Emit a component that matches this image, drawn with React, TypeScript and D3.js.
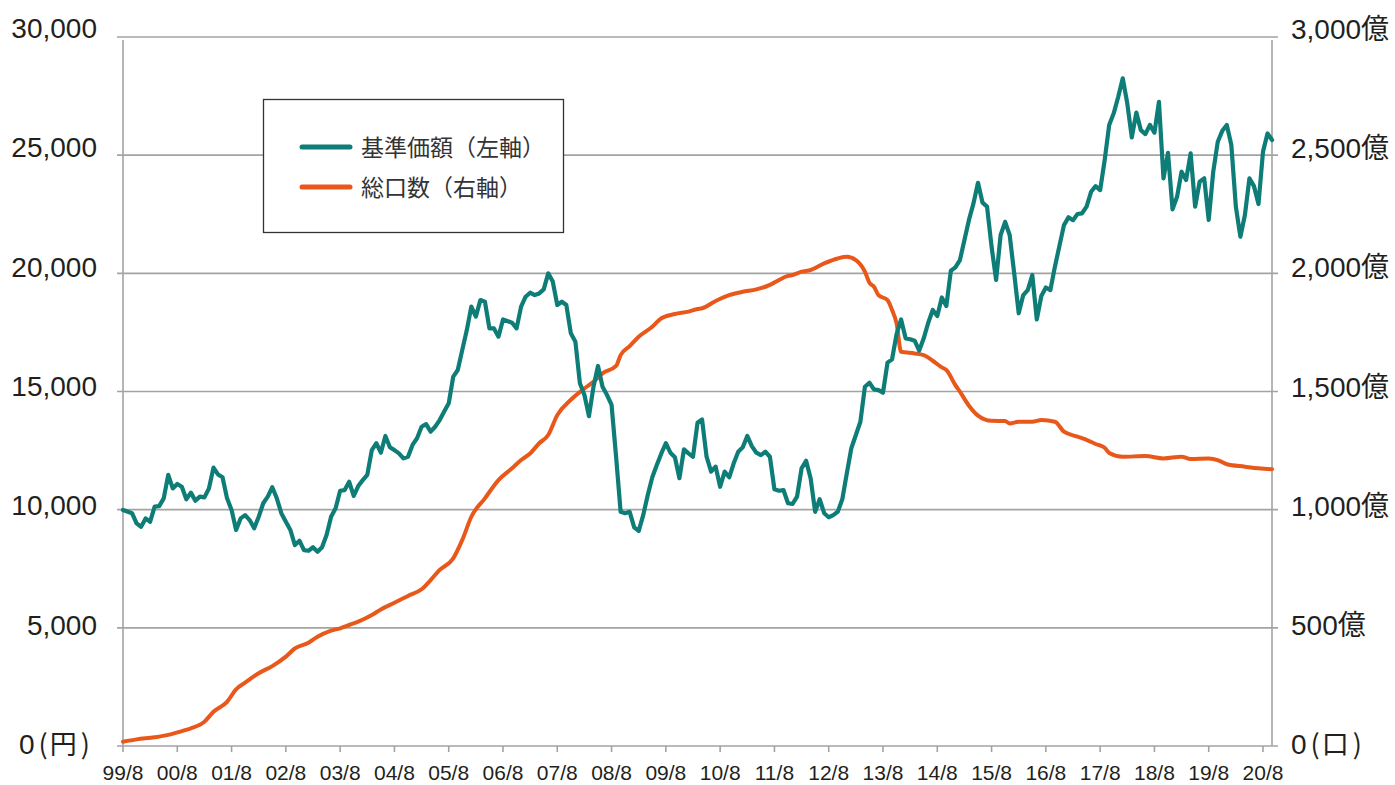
import React from "react"
import * as d3 from "d3"

// months counted from 1999/8
const navMonths = [
  0, 2, 3, 4, 5, 6, 7, 8, 9, 10, 11, 12, 13, 14, 15, 16, 17, 18, 19, 20, 21, 22, 23, 24, 25, 26, 27, 28, 29, 30,
  31, 32, 33, 34, 35, 36, 37, 38, 39, 40, 41, 42, 43, 44, 45, 46, 47, 48, 49, 50, 51, 52, 53, 54, 55, 56, 57, 58, 59, 60,
  61, 62, 63, 64, 65, 66, 67, 68, 69, 70, 71, 72, 73, 74, 75, 76, 77, 78, 79, 80, 81, 82, 83, 84, 86, 87, 88, 89, 90,
  91, 92, 93, 94, 95, 96, 97, 98, 99, 100, 101, 102, 103, 104, 105, 106, 107, 108, 109, 110, 111, 112, 113, 114, 115, 116, 117, 118, 119, 120,
  121, 122, 123, 124, 125, 126, 127, 128, 129, 130, 131, 132, 133, 134, 135, 136, 137, 138, 139, 140, 141, 142, 143, 144, 145, 146, 147, 148, 149, 150,
  151, 152, 153, 154, 155, 156, 157, 158, 159, 160, 161, 162, 163, 164, 165, 166, 167, 168, 169, 170, 171, 172, 173, 174, 175, 176, 177, 178, 179, 180,
  181, 182, 183, 184, 185, 186, 187, 188, 189, 190, 191, 192, 193, 194, 195, 196, 197, 198, 199, 200, 201, 202, 203, 204, 205, 206, 207, 208, 209, 210,
  211, 212, 213, 214, 215, 216, 217, 218, 219, 220, 221, 222, 223, 224, 225, 226, 227, 228, 229, 230, 231, 232, 233, 234, 235, 236, 237, 238, 239, 240,
  241, 242, 243, 244, 245, 246, 247, 248, 249, 250, 251, 252, 253, 254,
]
// 基準価額 (円)
const navValues = [
  9990, 9850, 9420, 9280, 9630, 9490, 10130, 10150, 10480, 11470, 10900, 11090, 10970, 10440, 10720, 10380, 10550, 10520, 10900, 11780, 11490, 11370, 10480, 9990, 9140, 9630, 9770, 9560, 9210, 9700,
  10270, 10550, 10950, 10480, 9850, 9490, 9140, 8500, 8690, 8290, 8260, 8410, 8220, 8410, 8930, 9700, 10060, 10800, 10830, 11180, 10580, 11000, 11250, 11470, 12520, 12810, 12410, 13120, 12640, 12520,
  12380, 12170, 12240, 12740, 13020, 13510, 13620, 13300, 13510, 13790, 14150, 14500, 15630, 15910, 16760, 17600, 18590, 18170, 18870, 18800, 17670, 17670, 17320, 18050, 17910, 17670, 18590, 19010, 19180,
  19080, 19150, 19320, 20000, 19650, 18660, 18800, 18660, 17460, 17110, 15350, 14850, 13960, 15200, 16080, 15200, 14850, 14430, 12240, 9910, 9850, 9910, 9250, 9100, 9770, 10620, 11370, 11890, 12380, 12810,
  12410, 12220, 11330, 12550, 12380, 12240, 13680, 13820, 12240, 11610, 11820, 10970, 11610, 11370, 11960, 12450, 12640, 13120, 12690, 12410, 12310, 12450, 12240, 10860, 10800, 10830, 10270, 10240, 10550, 11750,
  12070, 11330, 9910, 10440, 9850, 9680, 9770, 9910, 10440, 11540, 12600, 13160, 13720, 15200, 15370, 15090, 15060, 14950, 16220, 16360, 17430, 18050, 17250, 17210, 17150, 16730, 17250, 17910, 18450, 18190,
  18980, 18620, 20110, 20250, 20560, 21410, 22260, 22960, 23830, 22990, 22820, 21130, 19720, 21620, 22180, 21620, 20000, 18310, 19080, 19290, 19930, 18050, 19040, 19400, 19290, 20280, 21160, 22040, 22370, 22250,
  22510, 22540, 22820, 23450, 23690, 23520, 24790, 26280, 26770, 27470, 28250, 27190, 25750, 26800, 26060, 25890, 26280, 25950, 27260, 24020, 25100, 22710, 23240, 24300, 23950, 25080, 22820, 23880, 24020, 22260,
  24300, 25570, 26030, 26280, 25430, 22820, 21550, 22470, 24020, 23690, 22930, 25150, 25920, 25640,
]

const unitMonths = [
  0, 3, 7, 10, 13, 15, 18, 20, 23, 25, 27, 30, 33, 36, 38, 41, 43, 46, 48, 50, 52, 55, 57, 60, 63, 66, 68, 70, 73, 75,
  77, 80, 83, 86, 88, 90, 92, 94, 96, 99, 102, 104, 106, 109, 110, 112, 114, 117, 119, 122, 125, 127, 128, 131, 134, 137, 140, 143, 145, 147,
  148, 150, 152, 155, 158, 160, 162, 164, 165, 166, 167, 169, 170, 171, 172, 175, 177, 179, 181, 182, 184, 185, 187, 189, 192, 195, 196, 198, 201, 203,
  206, 208, 211, 213, 215, 217, 218, 221, 226, 230, 234, 236, 240, 242, 244, 248, 251, 254,
]
// 総口数 (億口)
const unitValues = [
  18, 28, 37, 47, 63, 75, 103, 145, 187, 240, 268, 308, 338, 378, 413, 437, 462, 488, 498, 512, 526, 554, 578, 606, 635, 663, 702, 745, 794, 872,
  970, 1048, 1125, 1175, 1210, 1238, 1281, 1316, 1400, 1465, 1513, 1541, 1577, 1608, 1654, 1692, 1732, 1774, 1810, 1828, 1838, 1849, 1852, 1883, 1908, 1922, 1932, 1951, 1972, 1989,
  1993, 2007, 2014, 2042, 2063, 2070, 2056, 2007, 1960, 1943, 1908, 1887, 1845, 1788, 1668, 1661, 1654, 1630, 1602, 1591, 1527, 1499, 1440, 1398, 1376, 1375, 1365, 1372, 1372, 1379,
  1372, 1330, 1309, 1295, 1278, 1262, 1240, 1224, 1227, 1217, 1224, 1214, 1217, 1210, 1192, 1182, 1175, 1171,
]

const xTickLabels = [
  "99/8", "00/8", "01/8", "02/8", "03/8", "04/8", "05/8", "06/8", "07/8", "08/8", "09/8",
  "10/8", "11/8", "12/8", "13/8", "14/8", "15/8", "16/8", "17/8", "18/8", "19/8", "20/8",
]
const leftTicks = [0, 5000, 10000, 15000, 20000, 25000, 30000]
const rightTicks = [0, 500, 1000, 1500, 2000, 2500, 3000]
const legendLabels = ["基準価額（左軸）", "総口数（右軸）"]

const TEAL = "#0f7d77"
const ORANGE = "#e9581b"
const GRID = "#a3a3a3"
const TEXT = "#231f20"
const NUM_FONT = "'Liberation Sans', 'Noto Sans CJK JP', sans-serif"
const CJK_FONT = "'Noto Sans CJK JP', sans-serif"

export default function App() {
  const width = 1395
  const height = 785
  const left = 123
  const right = 1272
  const top = 37
  const bottom = 746

  const x = d3.scaleLinear().domain([0, 252]).range([left, 1263])
  const yL = d3.scaleLinear().domain([0, 30000]).range([bottom, top])
  const yR = d3.scaleLinear().domain([0, 3000]).range([bottom, top])
  // labels sit on a slightly wider spacing than the grid
  const labelY = d3.scaleLinear().domain([0, 30000]).range([754, 38])
  const labelYR = d3.scaleLinear().domain([0, 3000]).range([754, 39])
  const fmt = d3.format(",")

  const navLine = d3
    .line<number>()
    .x((m) => x(m))
    .y((_, i) => yL(navValues[i]))(navMonths)

  const unitLine = d3
    .line<number>()
    .curve(d3.curveMonotoneX)
    .x((m) => x(m))
    .y((_, i) => yR(unitValues[i]))(unitMonths)

  const xTicks = xTickLabels.map((_, i) => i * 12)

  // "0(円)" style label with narrow parens
  const zeroLabel = (unit: string, xPos: number, yPos: number) => (
    <text x={xPos} y={yPos}>
      0
      <tspan fontFamily={CJK_FONT} fontSize={27} dx={4}>(</tspan>
      <tspan fontFamily={CJK_FONT} fontSize={27} dx={2}>{unit}</tspan>
      <tspan fontFamily={CJK_FONT} fontSize={27} dx={4}>)</tspan>
    </text>
  )

  return (
    <svg
      width={width}
      height={height}
      style={{ position: "absolute", left: 0, top: 0, background: "#fff" }}
    >
      {/* grid */}
      <g stroke={GRID} strokeWidth={1.6}>
        {leftTicks.map((t) => (
          <line key={t} x1={117} x2={1278} y1={yL(t)} y2={yL(t)} />
        ))}
        <line x1={left} x2={left} y1={40} y2={bottom} />
        <line x1={right} x2={right} y1={40} y2={bottom} />
        {xTicks.map((m) => (
          <line key={m} x1={x(m)} x2={x(m)} y1={bottom} y2={bottom + 6} />
        ))}
      </g>

      {/* x labels */}
      <g fill={TEXT} fontFamily="'Liberation Sans Narrow', 'Liberation Sans', sans-serif" fontSize={21} textAnchor="middle">
        {xTicks.map((m, i) => (
          <text key={m} x={x(m)} y={780}>
            {xTickLabels[i]}
          </text>
        ))}
      </g>

      {/* left labels */}
      <g fill={TEXT} fontFamily={NUM_FONT} fontSize={28}>
        {leftTicks.map((t) =>
          t === 0 ? (
            <g key={t}>{zeroLabel("円", 19, labelY(t))}</g>
          ) : (
            <text key={t} x={97} y={labelY(t)} textAnchor="end">
              {fmt(t)}
            </text>
          )
        )}
      </g>

      {/* right labels */}
      <g fill={TEXT} fontFamily={NUM_FONT} fontSize={28}>
        {rightTicks.map((t) =>
          t === 0 ? (
            <g key={t}>{zeroLabel("口", 1291, labelYR(t))}</g>
          ) : (
            <text key={t} x={1291} y={labelYR(t)}>
              {fmt(t)}
              <tspan fontFamily={CJK_FONT}>億</tspan>
            </text>
          )
        )}
      </g>

      {/* series */}
      <path d={unitLine ?? ""} fill="none" stroke={ORANGE} strokeWidth={4} strokeLinejoin="round" strokeLinecap="round" />
      <path d={navLine ?? ""} fill="none" stroke={TEAL} strokeWidth={4.2} strokeLinejoin="round" strokeLinecap="round" />

      {/* legend */}
      <g>
        <rect x={263.5} y={99.5} width={300} height={133} fill="#fff" stroke="#333" strokeWidth={1.3} />
        {[TEAL, ORANGE].map((c, i) => (
          <g key={c}>
            <line x1={302} x2={350} y1={147 + i * 40} y2={147 + i * 40} stroke={c} strokeWidth={5} strokeLinecap="round" />
            <text x={361} y={156 + i * 40} fill="#333" fontFamily={CJK_FONT} fontSize={23}>
              {legendLabels[i]}
            </text>
          </g>
        ))}
      </g>
    </svg>
  )
}
